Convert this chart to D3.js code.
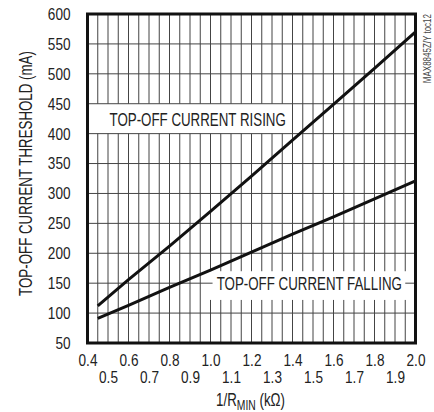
<!DOCTYPE html>
<html>
<head>
<meta charset="utf-8">
<script src="https://cdn.jsdelivr.net/npm/d3@7"></script>
<style>
  body { margin: 0; background: #fff; }
  text { font-family: "Liberation Sans", Arial, sans-serif; fill: #222; }
</style>
</head>
<body>
<div id="chart"></div>
<script>
// values
var xValues = [0.45, 0.6, 0.8, 1.0, 1.2, 1.4, 1.6, 1.8, 2.0];
var rising  = [112, 156, 212, 270, 329, 389, 449, 509, 570];
var falling = [91, 113, 143, 172, 202, 232, 261, 291, 321];
var yTicks = [50, 100, 150, 200, 250, 300, 350, 400, 450, 500, 550, 600];
var xTicksTop = [0.4, 0.6, 0.8, 1.0, 1.2, 1.4, 1.6, 1.8, 2.0];
var xTicksBottom = [0.5, 0.7, 0.9, 1.1, 1.3, 1.5, 1.7, 1.9];
var xGrid = d3.range(0, 33).map(function(i) { return +(0.4 + i * 0.05).toFixed(2); });

// no narrow font installed: squeeze Liberation Sans horizontally
var tickSqueeze = 0.8,
    labelSqueeze = 0.74;

var margin = {top: 14, right: 18.5, bottom: 69, left: 87.5},
    width = 434 - margin.left - margin.right,
    height = 412 - margin.top - margin.bottom;

var svg = d3.select("#chart")
  .append("svg")
    .attr("width", 434)
    .attr("height", 412)
  .append("g")
    .attr("transform", "translate(" + margin.left + "," + margin.top + ")");

var x = d3.scaleLinear().domain([0.4, 2.0]).range([0, width]);
var y = d3.scaleLinear().domain([50, 600]).range([height, 0]);

// vertical grid
svg.append("g").selectAll("line")
  .data(xGrid)
  .enter().append("line")
    .attr("x1", function(d) { return x(d); })
    .attr("x2", function(d) { return x(d); })
    .attr("y1", 0)
    .attr("y2", height)
    .attr("stroke", "#444")
    .attr("stroke-width", 1);

// white boxes behind the labels (they cut the vertical grid)
svg.append("rect")
  .attr("x", x(0.4)).attr("y", y(450))
  .attr("width", x(1.388) - x(0.4)).attr("height", y(400) - y(450))
  .attr("fill", "#fff");
svg.append("rect")
  .attr("x", x(0.985)).attr("y", y(170))
  .attr("width", x(1.965) - x(0.985)).attr("height", y(122) - y(170))
  .attr("fill", "#fff");

// horizontal grid
svg.append("g").selectAll("line")
  .data(yTicks)
  .enter().append("line")
    .attr("x1", 0)
    .attr("x2", width)
    .attr("y1", function(d) { return y(d); })
    .attr("y2", function(d) { return y(d); })
    .attr("stroke", "#444")
    .attr("stroke-width", 1);

// falling label background over the 150 line
svg.append("rect")
  .attr("x", x(1.01)).attr("y", y(160))
  .attr("width", x(1.95) - x(1.01)).attr("height", y(140) - y(160))
  .attr("fill", "#fff");

// curves
var line = d3.line()
  .x(function(d, i) { return x(xValues[i]); })
  .y(function(d) { return y(d); });

svg.append("path")
  .datum(rising)
  .attr("fill", "none")
  .attr("stroke", "#111")
  .attr("stroke-width", 3)
  .attr("d", line);

svg.append("path")
  .datum(falling)
  .attr("fill", "none")
  .attr("stroke", "#111")
  .attr("stroke-width", 3)
  .attr("d", line);

// frame
svg.append("rect")
  .attr("x", 0).attr("y", 0)
  .attr("width", width).attr("height", height)
  .attr("fill", "none")
  .attr("stroke", "#111")
  .attr("stroke-width", 3);

// axes (labels only)
var yAxis = svg.append("g")
  .call(d3.axisLeft(y).tickValues(yTicks).tickSize(0).tickPadding(17));
yAxis.select(".domain").remove();
yAxis.selectAll("text")
  .style("font-size", "17px")
  .attr("x", -17 / tickSqueeze)
  .attr("transform", "scale(" + tickSqueeze + ",1)");

var xAxis1 = svg.append("g")
  .attr("transform", "translate(0," + height + ")")
  .call(d3.axisBottom(x).tickValues(xTicksTop).tickSize(0).tickPadding(11).tickFormat(d3.format(".1f")));
xAxis1.select(".domain").remove();
xAxis1.selectAll("text")
  .style("font-size", "17px")
  .attr("transform", "scale(" + tickSqueeze + ",1)");

var xAxis2 = svg.append("g")
  .attr("transform", "translate(0," + height + ")")
  .call(d3.axisBottom(x).tickValues(xTicksBottom).tickSize(0).tickPadding(28).tickFormat(d3.format(".1f")));
xAxis2.select(".domain").remove();
xAxis2.selectAll("text")
  .style("font-size", "17px")
  .attr("transform", "scale(" + tickSqueeze + ",1)");

// curve labels
svg.append("text")
  .attr("transform", "translate(" + (x(0.4) + 22) + "," + (y(400) - 8) + ") scale(" + labelSqueeze + ",1)")
  .style("font-size", "18px")
  .text("TOP-OFF CURRENT RISING");

svg.append("text")
  .attr("transform", "translate(" + (x(1.03)) + "," + (y(150) + 6.5) + ") scale(" + labelSqueeze + ",1)")
  .style("font-size", "18px")
  .text("TOP-OFF CURRENT FALLING");

// axis titles
svg.append("text")
  .attr("transform", "translate(-56," + (height / 2 - 5) + ") rotate(-90) scale(" + labelSqueeze + ",1)")
  .attr("text-anchor", "middle")
  .style("font-size", "18px")
  .text("TOP-OFF CURRENT THRESHOLD (mA)");

var xt = svg.append("text")
  .attr("transform", "translate(" + (width / 2 - 1) + "," + (height + 63) + ") scale(" + labelSqueeze + ",1)")
  .attr("text-anchor", "middle")
  .style("font-size", "18px");
xt.append("tspan").text("1/R");
xt.append("tspan").attr("dy", 4).style("font-size", "14px").text("MIN");
xt.append("tspan").attr("dy", -4).text(" (k\u03A9)");

svg.append("text")
  .attr("transform", "translate(" + (width + 15) + ",0) rotate(-90) scale(0.8,1)")
  .attr("text-anchor", "end")
  .style("font-size", "10px")
  .style("fill", "#444")
  .text("MAX8845Z/Y toc12");
</script>
</body>
</html>
